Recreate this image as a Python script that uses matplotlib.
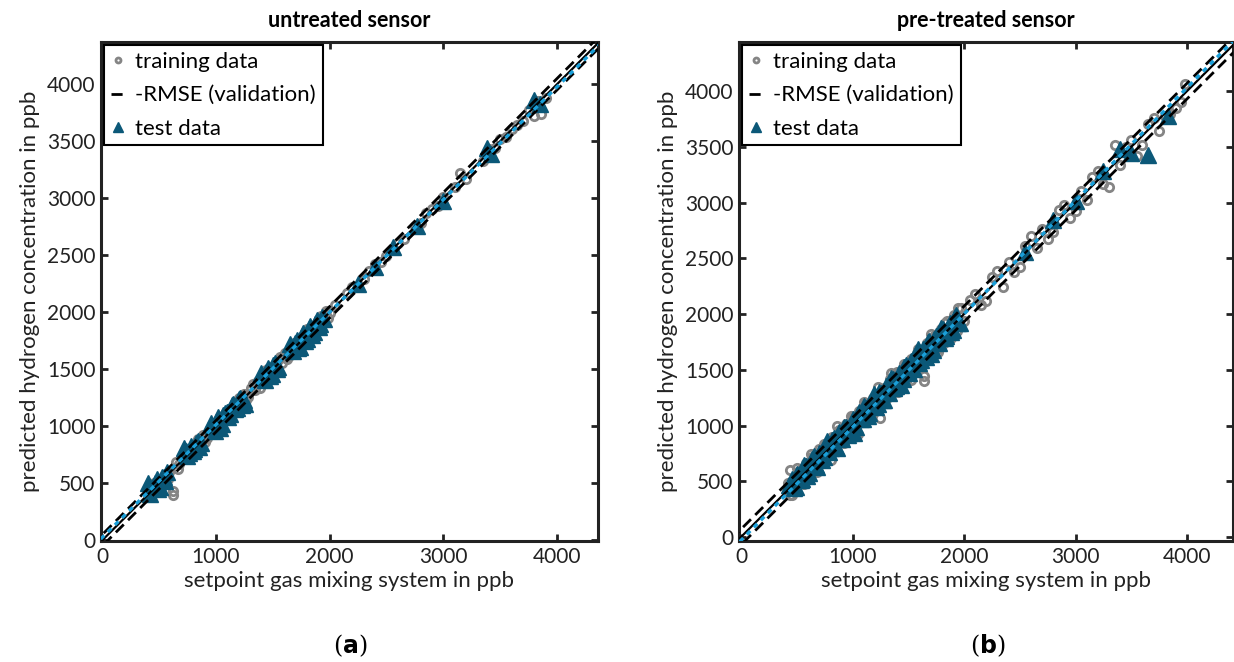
import numpy as np
import matplotlib
matplotlib.use("Agg")
import matplotlib.pyplot as plt

plt.rcParams['font.family'] = ['Lato', 'DejaVu Sans']

# untreated sensor (a)
train_a_x = [410, 440, 470, 500, 530, 560, 590, 620, 620, 650, 680, 710, 740, 770, 800, 830, 860, 890,
             920, 950, 980, 1010, 1040, 1070, 1100, 1130, 1160, 1190, 1220, 1250, 1280, 1310, 1340, 1370,
             1400, 1430, 1460, 1490, 1520, 1550, 1580, 1610, 1640, 1670, 1700, 1730, 1760, 1790, 1820,
             1850, 1880, 1910, 1940, 1970, 2000, 2150, 2200, 2300, 2400, 2450, 2600, 2650, 2800, 2850,
             2950, 3000, 3150, 3200, 3350, 3400, 3500, 3550, 3700, 3750, 3800, 3830, 3860, 3900,
             455, 515, 575, 665, 725, 785, 845, 905, 965, 1025, 1085, 1145, 1205, 1265, 1325, 1385,
             1445, 1505, 1565, 1625, 1685, 1745, 1805, 1865, 1925, 1985, 2050, 2350, 2500, 2750, 2900,
             3100, 3450, 3600, 3650]
train_a_y = [430, 470, 450, 530, 510, 580, 600, 400, 430, 690, 670, 740, 720, 800, 780, 860, 840, 920,
             900, 980, 960, 1040, 1020, 1100, 1080, 1160, 1140, 1220, 1200, 1280, 1260, 1340, 1320, 1400,
             1380, 1460, 1440, 1520, 1500, 1580, 1560, 1640, 1620, 1700, 1680, 1760, 1740, 1820, 1800,
             1880, 1860, 1940, 1920, 2010, 1990, 2170, 2220, 2290, 2420, 2440, 2610, 2640, 2780, 2870,
             2930, 3010, 3220, 3170, 3330, 3430, 3520, 3540, 3680, 3770, 3720, 3850, 3740, 3880,
             500, 470, 540, 630, 770, 740, 890, 860, 1010, 990, 1130, 1100, 1250, 1230, 1370, 1340,
             1490, 1470, 1610, 1590, 1730, 1700, 1850, 1830, 1970, 1950, 2060, 2360, 2490, 2760, 2910,
             3100, 3440, 3610, 3640]
test_a_x = [400, 420, 450, 480, 510, 540, 570, 720, 750, 780, 810, 840, 870, 960, 990, 1020, 1050,
            1080, 1110, 1140, 1170, 1200, 1230, 1260, 1400, 1430, 1460, 1490, 1520, 1550, 1650, 1680,
            1710, 1740, 1770, 1800, 1830, 1860, 1890, 1920, 2250, 2400, 2560, 2770, 3000, 3380, 3420,
            3800, 3850,
            435, 465, 495, 525, 555, 735, 765, 795, 825, 855, 975, 1005, 1035, 1065, 1095, 1125, 1155,
            1185, 1215, 1245, 1415, 1445, 1475, 1505, 1535, 1665, 1695, 1725, 1755, 1785, 1815, 1845,
            1875, 1905, 1935, 1950]
test_a_y = [500, 410, 470, 540, 470, 560, 600, 810, 740, 830, 800, 870, 850, 1030, 960, 1080, 1020,
            1120, 1080, 1190, 1150, 1240, 1190, 1200, 1470, 1410, 1510, 1460, 1560, 1520, 1720, 1660,
            1760, 1700, 1820, 1770, 1880, 1830, 1930, 1900, 2250, 2400, 2570, 2760, 2980, 3440, 3390,
            3860, 3830,
            460, 500, 450, 560, 520, 780, 770, 780, 850, 820, 1000, 1040, 990, 1100, 1130, 1110, 1200,
            1160, 1250, 1230, 1430, 1480, 1440, 1540, 1500, 1690, 1730, 1690, 1790, 1750, 1850, 1800,
            1900, 1870, 1960, 1940]
rmse_a = 50
fit_a = [0.988, 25]   # pente, ordonnée

# pre-treated sensor (b)
train_b_x = [420, 440, 460, 490, 520, 550, 580, 610, 640, 670, 700, 730, 760, 790, 820, 850, 880, 910,
             940, 970, 1000, 1030, 1060, 1090, 1120, 1150, 1180, 1210, 1250, 1280, 1310, 1340, 1370,
             1400, 1430, 1460, 1490, 1520, 1550, 1580, 1610, 1640, 1640, 1670, 1700, 1730, 1760, 1790,
             1820, 1850, 1880, 1910, 1940, 1970, 2000, 2100, 2150, 2250, 2350, 2400, 2500, 2550, 2650,
             2700, 2800, 2900, 2950, 3050, 3100, 3200, 3300, 3350, 3400, 3450, 3550, 3650, 3750, 3800,
             3900, 3980,
             435, 505, 565, 625, 685, 745, 805, 865, 925, 985, 1045, 1105, 1165, 1225, 1285, 1345,
             1405, 1465, 1525, 1585, 1645, 1705, 1765, 1825, 1885, 1945, 2050, 2200, 2300, 2450, 2600,
             2750, 2850, 3000, 3150, 3250, 3500, 3600, 3700, 3850, 3950]
train_b_y = [480, 600, 380, 430, 590, 500, 660, 560, 720, 620, 790, 680, 830, 760, 900, 800, 960, 860,
             1010, 920, 1080, 980, 1130, 1040, 1200, 1090, 1250, 1150, 1070, 1340, 1250, 1420, 1300,
             1480, 1370, 1540, 1420, 1600, 1470, 1650, 1540, 1400, 1440, 1740, 1620, 1800, 1690, 1870,
             1740, 1940, 1800, 1990, 1850, 2050, 1940, 2180, 2080, 2330, 2240, 2470, 2420, 2610, 2590,
             2760, 2740, 2980, 2860, 3100, 3020, 3280, 3140, 3520, 3340, 3500, 3420, 3700, 3640, 3780,
             3850, 4060,
             375, 615, 475, 745, 585, 835, 695, 995, 845, 1085, 925, 1215, 1075, 1345, 1215, 1475,
             1305, 1555, 1405, 1685, 1565, 1825, 1655, 1915, 1785, 2055, 2130, 2120, 2390, 2380, 2700,
             2670, 2930, 2920, 3230, 3170, 3560, 3520, 3760, 3790, 3900]
test_b_x = [430, 460, 490, 520, 550, 580, 610, 640, 670, 700, 730, 760, 790, 820, 850, 880, 910, 940,
            970, 1000, 1030, 1060, 1090, 1120, 1150, 1180, 1210, 1240, 1270, 1300, 1330, 1360, 1390,
            1420, 1450, 1480, 1510, 1540, 1570, 1600, 1630, 1660, 1690, 1720, 1750, 1780, 1810, 1840,
            1870, 1900, 1930, 1960, 2550, 2800, 3000, 3250, 3400, 3500, 3650, 3830,
            445, 475, 505, 535, 565, 595, 625, 655, 685, 715, 745, 775, 805, 835, 865, 895, 925, 955,
            985, 1015, 1045, 1075, 1105, 1135, 1165, 1195, 1225, 1255, 1285, 1315, 1345, 1375, 1405,
            1435, 1465, 1495, 1525, 1555, 1585, 1615, 1645, 1675, 1705, 1735, 1765, 1795, 1825, 1855,
            1885, 1915, 1945]
test_b_y = [470, 520, 450, 560, 520, 640, 570, 700, 650, 750, 690, 820, 760, 870, 810, 940, 880, 990,
            930, 1060, 990, 1120, 1060, 1160, 1110, 1240, 1170, 1300, 1230, 1350, 1290, 1420, 1350,
            1470, 1420, 1540, 1470, 1580, 1640, 1560, 1690, 1610, 1760, 1680, 1800, 1740, 1870, 1800,
            1920, 1860, 1990, 1920, 2560, 2840, 3010, 3280, 3480, 3440, 3430, 3780,
            475, 435, 565, 515, 645, 545, 635, 725, 625, 755, 715, 865, 795, 885, 795, 915, 985, 915,
            1015, 935, 1095, 1055, 1175, 1085, 1175, 1285, 1195, 1295, 1225, 1335, 1425, 1335, 1435,
            1365, 1525, 1485, 1575, 1505, 1685, 1585, 1665, 1745, 1645, 1775, 1745, 1875, 1785, 1885,
            1835, 1975, 1915]
rmse_b = 70
fit_b = [1.015, -30]

titles = ["untreated sensor", "pre-treated sensor"]
captions = ["a", "b"]

GRIS = "#858585"
BLEU = "#0b5878"
CYAN = "#1a9fd9"
FS = 16


def panneau(ax, tx, ty, sx, sy, rmse, fit, titre, xlim, ylim):
    ax.plot(tx, ty, 'o', ms=6, mfc='none', mec=GRIS, mew=2, label="training data", zorder=2)
    xx = np.array([-200, 4600])
    ax.plot(xx, xx + rmse, '--', color='black', lw=2, dashes=(4, 2.2),
            label="-RMSE (validation)", zorder=4)
    ax.plot(xx, xx - rmse, '--', color='black', lw=2, dashes=(4, 2.2), zorder=4)
    ax.plot(sx, sy, '^', ms=11, mfc=BLEU, mec=BLEU, label="test data", zorder=3)
    ax.plot(xx, xx, '-', color='black', lw=1.6, zorder=5)
    ax.plot(xx, fit[0]*xx + fit[1], ':', color=CYAN, lw=2.4, dashes=(1.5, 1.5), zorder=5)
    ax.set_xlim(*xlim)
    ax.set_ylim(*ylim)
    ax.set_xticks([0, 1000, 2000, 3000, 4000])
    ax.set_yticks(np.arange(0, 4001, 500))
    ax.tick_params(direction='in', top=True, right=True, length=5, width=2, labelsize=15,
                   colors='#222222', labelcolor='#222222', pad=4)
    for s in ax.spines.values():
        s.set_linewidth(2.2)
        s.set_color('#222222')
    ax.set_title(titre, fontsize=15.5, fontweight='bold', pad=11)
    ax.set_xlabel("setpoint gas mixing system in ppb", fontsize=FS, color='#222222', labelpad=3)
    ax.set_ylabel("predicted hydrogen concentration in ppb", fontsize=FS, color='#222222', labelpad=5)
    leg = ax.legend(loc='upper left', fontsize=FS, handlelength=0.6, handletextpad=0.5,
                    borderaxespad=0.15, borderpad=0.3, labelspacing=0.6, fancybox=False,
                    framealpha=1, markerscale=0.6)
    leg.get_frame().set_edgecolor('black')
    leg.get_frame().set_linewidth(1.5)


fig = plt.figure(figsize=(12.34, 6.62), dpi=100)
ax1 = fig.add_axes([101/1234, 121/662, 497/1234, 499/662])
ax2 = fig.add_axes([739/1234, 121/662, 494/1234, 499/662])

panneau(ax1, train_a_x, train_a_y, test_a_x, test_a_y, rmse_a, fit_a, titles[0],
        (-10, 4360), (-5, 4370))
panneau(ax2, train_b_x, train_b_y, test_b_x, test_b_y, rmse_b, fit_b, titles[1],
        (-18, 4412), (-36, 4440))

fig.text(350/1234, 1 - 646/662, r"($\mathbf{%s}$)" % captions[0], ha='center', va='center',
         fontsize=17, family='DejaVu Serif')
fig.text(988/1234, 1 - 646/662, r"($\mathbf{%s}$)" % captions[1], ha='center', va='center',
         fontsize=17, family='DejaVu Serif')

fig.savefig("out.png", dpi=100)
